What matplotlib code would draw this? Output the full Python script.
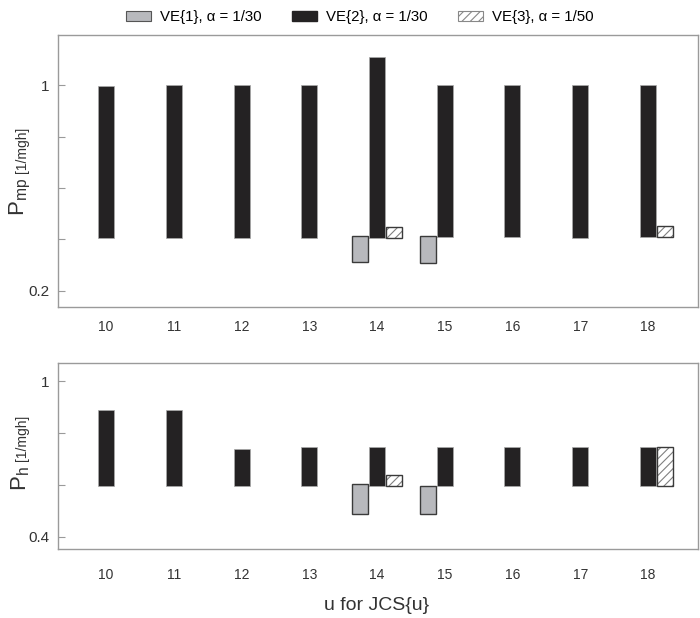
import matplotlib
matplotlib.use('Agg')
import matplotlib.pyplot as plt
import matplotlib.patches as patches

plt.rcParams['font.family'] = ['Liberation Sans', 'DejaVu Sans']
plt.rcParams['hatch.linewidth'] = 0.8

# x categories: u for JCS{u}
u = [10, 11, 12, 13, 14, 15, 16, 17, 18]

# top panel, P_mp ranges (low, high)
mp_ve2_low = [0.406, 0.406, 0.406, 0.406, 0.406, 0.411, 0.411, 0.406, 0.411]
mp_ve2_high = [0.997, 1.0, 1.0, 1.0, 1.109, 1.0, 1.0, 1.0, 1.0]
mp_ve1_u = [14, 15]
mp_ve1_low = [0.311, 0.310]
mp_ve1_high = [0.413, 0.414]
mp_ve3_u = [14, 18]
mp_ve3_low = [0.406, 0.411]
mp_ve3_high = [0.448, 0.453]

# bottom panel, P_h ranges
h_ve2_low = [0.596, 0.596, 0.596, 0.596, 0.596, 0.596, 0.596, 0.596, 0.596]
h_ve2_high = [0.889, 0.889, 0.739, 0.744, 0.744, 0.744, 0.744, 0.744, 0.744]
h_ve1_u = [14, 15]
h_ve1_low = [0.487, 0.487]
h_ve1_high = [0.601, 0.597]
h_ve3_u = [14, 18]
h_ve3_low = [0.596, 0.596]
h_ve3_high = [0.638, 0.745]

BLACK = '#242223'
GRAY = '#b8b9bd'
SPINE = '#9a9a9a'
TXT = '#333333'
W = 0.236
OFF = 0.25


def float_bars(ax, xs, lo, hi, kind, shift=0.0):
    xs = [x + shift for x in xs]
    h = [b - a for a, b in zip(lo, hi)]
    if kind == 'black':
        ax.bar(xs, h, bottom=lo, width=W, color=BLACK, edgecolor='#aaaaaa', linewidth=0.5)
    elif kind == 'gray':
        ax.bar(xs, h, bottom=lo, width=W, color=GRAY, edgecolor='#3a3a3a', linewidth=1.0)
    else:
        ax.bar(xs, h, bottom=lo, width=W, color='white', edgecolor='#808080',
               linewidth=0, hatch='////')
        ax.bar(xs, h, bottom=lo, width=W, fill=False, edgecolor='#3a3a3a', linewidth=1.0)


def style_axis(ax, ylim, yticks, ylabels, pad):
    ax.set_xlim(9.29, 18.74)
    ax.set_ylim(*ylim)
    ax.set_xticks(u)
    ax.set_xticklabels([str(v) for v in u])
    ax.set_yticks(yticks)
    ax.set_yticklabels(ylabels)
    ax.tick_params(axis='x', length=0, pad=pad, labelsize=10, labelcolor=TXT)
    ax.tick_params(axis='y', direction='in', length=5, width=0.8, color=SPINE,
                   labelsize=11, labelcolor=TXT, pad=6)
    for s in ax.spines.values():
        s.set_color(SPINE)
        s.set_linewidth(1.0)


fig = plt.figure(figsize=(7.0, 6.18), dpi=100)
ax1 = fig.add_axes([0.0829, 0.5032, 0.9143, 0.4402])
ax2 = fig.add_axes([0.0829, 0.1117, 0.9143, 0.3009])

float_bars(ax1, u, mp_ve2_low, mp_ve2_high, 'black')
float_bars(ax1, mp_ve1_u, mp_ve1_low, mp_ve1_high, 'gray', -OFF)
float_bars(ax1, mp_ve3_u, mp_ve3_low, mp_ve3_high, 'hatch', OFF)
style_axis(ax1, (0.137, 1.195), [0.2, 0.4, 0.6, 0.8, 1.0], ['0.2', '', '', '', '1'], 9)

float_bars(ax2, u, h_ve2_low, h_ve2_high, 'black')
float_bars(ax2, h_ve1_u, h_ve1_low, h_ve1_high, 'gray', -OFF)
float_bars(ax2, h_ve3_u, h_ve3_low, h_ve3_high, 'hatch', OFF)
style_axis(ax2, (0.352, 1.07), [0.4, 0.6, 0.8, 1.0], ['0.4', '', '', '1'], 14)

# y labels: big symbol, smaller unit stacked above it
renderer = fig.canvas.get_renderer()
for sym, ybot in [(r'P$_{\mathregular{mp}}$', 216), (r'P$_{\mathregular{h}}$', 491)]:
    t = fig.text(0.029, 1 - ybot / 618, sym, rotation=90, fontsize=16,
                 ha='center', va='bottom', color=TXT)
    bb = t.get_window_extent(renderer)
    fig.text(0.031, (bb.y1 + 5) / fig.bbox.height, '[1/mgh]', rotation=90, fontsize=10,
             ha='center', va='bottom', color=TXT)

fig.text(0.538, 1 - 606 / 618, 'u for JCS{u}', fontsize=14, ha='center', va='center',
         color=TXT)

handles = [
    patches.Patch(facecolor=GRAY, edgecolor='#555555', linewidth=0.8, label='VE{1}, α = 1/30'),
    patches.Patch(facecolor=BLACK, edgecolor=BLACK, label='VE{2}, α = 1/30'),
    patches.Patch(facecolor='white', edgecolor='#888888', linewidth=0.8, hatch='////',
                  label='VE{3}, α = 1/50'),
]
fig.legend(handles=handles, loc='upper center', bbox_to_anchor=(0.514, 1.005), ncol=3,
           frameon=False, fontsize=10.8, handlelength=1.7, handleheight=0.7,
           columnspacing=2.0, handletextpad=0.6)

fig.savefig('out.png', dpi=100)
